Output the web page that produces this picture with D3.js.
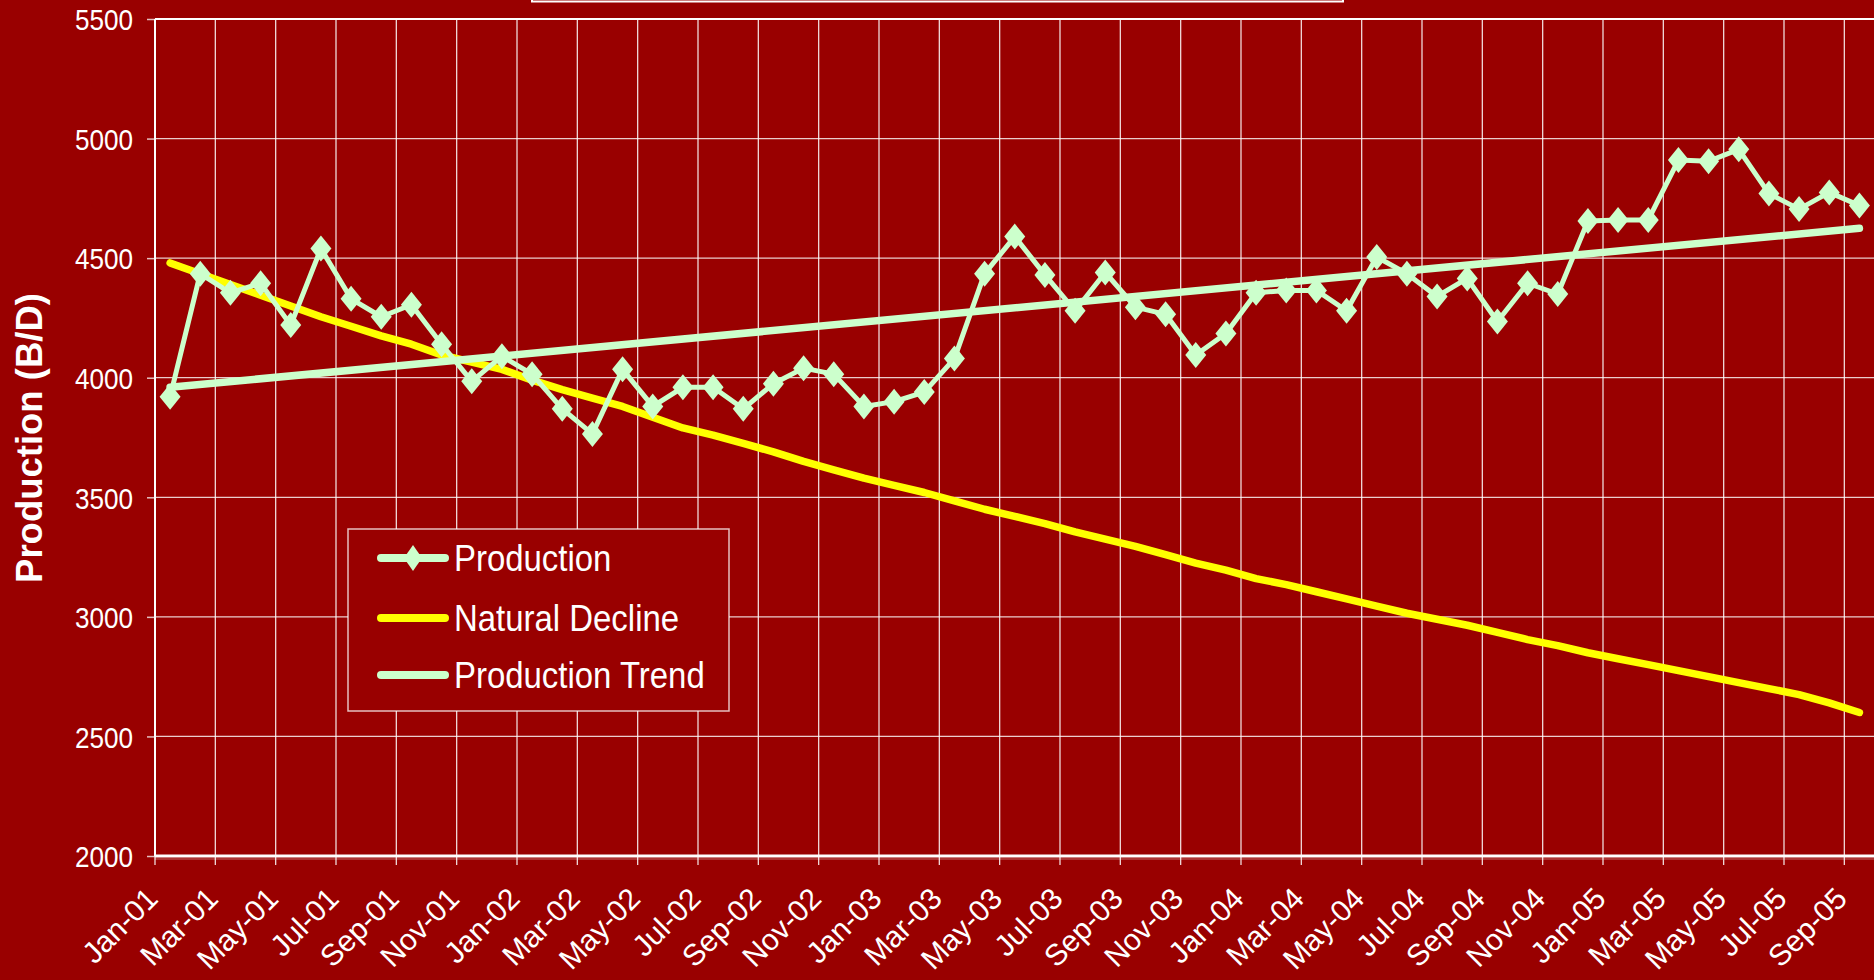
<!DOCTYPE html>
<html>
<head>
<meta charset="utf-8">
<script src="https://cdn.jsdelivr.net/npm/d3@7"></script>
<style>
  html, body { margin: 0; padding: 0; background: #990000; overflow: hidden; }
  svg { display: block; }
</style>
</head>
<body>
<div class="canvas"></div>
<script>
const months = [
  'Jan-01','Feb-01','Mar-01','Apr-01','May-01','Jun-01','Jul-01','Aug-01','Sep-01','Oct-01','Nov-01','Dec-01',
  'Jan-02','Feb-02','Mar-02','Apr-02','May-02','Jun-02','Jul-02','Aug-02','Sep-02','Oct-02','Nov-02','Dec-02',
  'Jan-03','Feb-03','Mar-03','Apr-03','May-03','Jun-03','Jul-03','Aug-03','Sep-03','Oct-03','Nov-03','Dec-03',
  'Jan-04','Feb-04','Mar-04','Apr-04','May-04','Jun-04','Jul-04','Aug-04','Sep-04','Oct-04','Nov-04','Dec-04',
  'Jan-05','Feb-05','Mar-05','Apr-05','May-05','Jun-05','Jul-05','Aug-05','Sep-05'
];

const production = [
  3920, 4435, 4355, 4395, 4220, 4540, 4330, 4255, 4305, 4140, 3985, 4090,
  4015, 3870, 3765, 4035, 3880, 3960, 3960, 3870, 3975, 4040, 4015, 3880,
  3900, 3940, 4080, 4435, 4590, 4430, 4280, 4440, 4295, 4265, 4095, 4185,
  4355, 4365, 4365, 4280, 4505, 4435, 4340, 4415, 4235, 4395, 4350, 4655,
  4660, 4660, 4910, 4905, 4955, 4770, 4705, 4775, 4720
];

const naturalDecline = [
  4480, 4435, 4390, 4345, 4300, 4255, 4215, 4175, 4140, 4095, 4065, 4035,
  3990, 3950, 3915, 3880, 3835, 3790, 3760, 3725, 3690, 3650, 3615, 3580,
  3550, 3520, 3485, 3450, 3420, 3390, 3355, 3325, 3295, 3260, 3225, 3195,
  3160, 3135, 3105, 3075, 3045, 3015, 2990, 2965, 2935, 2905, 2880, 2850,
  2825, 2800, 2775, 2750, 2725, 2700, 2675, 2640, 2600
];

const trendMonths = ['Jan-01', 'Sep-05'];
const trendValues = [3960, 4625];

const yTicks = [2000, 2500, 3000, 3500, 4000, 4500, 5000, 5500];
const seriesNames = ['Production', 'Natural Decline', 'Production Trend'];

const bgColor = '#990000';
const greenColor = '#ccffcc';
const yellowColor = '#ffff00';

const width = 1874, height = 980;
const margin = { top: 19, left: 155, bottom: 124 };
const graphWidth = 1874.5 - margin.left;
const graphHeight = height - margin.top - margin.bottom;

const svg = d3.select('.canvas').append('svg')
    .attr('width', width)
    .attr('height', height);

svg.append('rect')
    .attr('width', width)
    .attr('height', height)
    .attr('fill', bgColor);

// cut-off title box at the top
svg.append('rect')
    .attr('x', 532)
    .attr('y', -10)
    .attr('width', 811)
    .attr('height', 11.5)
    .attr('fill', 'none')
    .attr('stroke', 'white')
    .attr('stroke-width', 2);

const graph = svg.append('g')
    .attr('transform', `translate(${margin.left}, ${margin.top})`);

// Scales
const x = d3.scaleBand()
    .domain(months)
    .range([0, graphWidth])
    .padding(0);

const y = d3.scaleLinear()
    .domain([2000, 5500])
    .range([graphHeight, 0]);

const cx = m => x(m) + x.bandwidth() / 2;

// every second month gets a gridline, tick and label
const labelMonths = months.filter((m, i) => i % 2 === 0);

// horizontal gridlines
graph.append('g')
    .selectAll('line')
    .data(yTicks.slice(1, -1))
    .enter()
    .append('line')
    .attr('x1', 0)
    .attr('x2', graphWidth)
    .attr('y1', d => y(d))
    .attr('y2', d => y(d))
    .attr('stroke', 'rgba(255,255,255,0.8)')
    .attr('stroke-width', 1.3);

// vertical gridlines
graph.append('g')
    .selectAll('line')
    .data(labelMonths.slice(1))
    .enter()
    .append('line')
    .attr('x1', d => x(d))
    .attr('x2', d => x(d))
    .attr('y1', 0)
    .attr('y2', graphHeight)
    .attr('stroke', 'rgba(255,255,255,0.85)')
    .attr('stroke-width', 1.3);

// top border
graph.append('line')
    .attr('x1', 0)
    .attr('x2', graphWidth)
    .attr('y1', 0)
    .attr('y2', 0)
    .attr('stroke', 'white')
    .attr('stroke-width', 2);

// Y axis
const yAxis = d3.axisLeft(y).tickValues(yTicks).tickSize(8).tickFormat(d3.format('d'));
const yAxisG = graph.append('g').call(yAxis);
yAxisG.select('.domain').remove();
yAxisG.selectAll('.tick line')
    .attr('stroke', 'rgba(255,255,255,0.75)')
    .attr('stroke-width', 1.5);
yAxisG.selectAll('.tick text')
    .attr('x', -22 / 0.87)
    .attr('dy', '0.36em')
    .attr('transform', 'scale(0.87,1)')
    .attr('fill', 'white')
    .attr('font-family', 'Liberation Sans, Arial, sans-serif')
    .attr('font-size', 30);

graph.append('line')
    .attr('x1', 0)
    .attr('x2', 0)
    .attr('y1', 0)
    .attr('y2', graphHeight)
    .attr('stroke', 'white')
    .attr('stroke-width', 2);

// X axis
graph.append('line')
    .attr('x1', 0)
    .attr('x2', graphWidth)
    .attr('y1', graphHeight)
    .attr('y2', graphHeight)
    .attr('stroke', 'white')
    .attr('stroke-width', 3);

graph.append('line')
    .attr('x1', 0)
    .attr('x2', graphWidth)
    .attr('y1', graphHeight + 3)
    .attr('y2', graphHeight + 3)
    .attr('stroke', 'rgba(255,255,255,0.4)')
    .attr('stroke-width', 1);

graph.append('g')
    .selectAll('line')
    .data(labelMonths)
    .enter()
    .append('line')
    .attr('x1', d => x(d))
    .attr('x2', d => x(d))
    .attr('y1', graphHeight)
    .attr('y2', graphHeight + 9)
    .attr('stroke', 'rgba(255,255,255,0.85)')
    .attr('stroke-width', 1.3);

graph.append('g')
    .selectAll('text')
    .data(labelMonths)
    .enter()
    .append('text')
    .attr('transform', d => `translate(${cx(d) - 18}, ${graphHeight + 37}) rotate(-45)`)
    .attr('text-anchor', 'end')
    .attr('dy', '0.35em')
    .attr('fill', 'white')
    .attr('font-family', 'Liberation Sans, Arial, sans-serif')
    .attr('font-size', 30)
    .text(d => d);

// Y axis title
svg.append('text')
    .attr('transform', 'translate(42, 438) rotate(-90)')
    .attr('text-anchor', 'middle')
    .attr('fill', 'white')
    .attr('font-family', 'Liberation Sans, Arial, sans-serif')
    .attr('font-weight', 'bold')
    .attr('font-size', 36.5)
    .text('Production (B/D)');

// Lines
const line = d3.line()
    .x(d => cx(d.month))
    .y(d => y(d.value));

const declineData = months.map((m, i) => ({ month: m, value: naturalDecline[i] }));
const trendData = trendMonths.map((m, i) => ({ month: m, value: trendValues[i] }));
const prodData = months.map((m, i) => ({ month: m, value: production[i] }));

graph.append('path')
    .datum(declineData)
    .attr('fill', 'none')
    .attr('stroke', yellowColor)
    .attr('stroke-width', 7.5)
    .attr('stroke-linecap', 'round')
    .attr('stroke-linejoin', 'round')
    .attr('d', line);

graph.append('path')
    .datum(trendData)
    .attr('fill', 'none')
    .attr('stroke', greenColor)
    .attr('stroke-width', 7.5)
    .attr('stroke-linecap', 'round')
    .attr('d', line);

graph.append('path')
    .datum(prodData)
    .attr('fill', 'none')
    .attr('stroke', greenColor)
    .attr('stroke-width', 5)
    .attr('stroke-linejoin', 'round')
    .attr('d', line);

const diamond = 'M0,-13L10.5,0L0,13L-10.5,0Z';

graph.append('g')
    .selectAll('path')
    .data(prodData)
    .enter()
    .append('path')
    .attr('transform', d => `translate(${cx(d.month)}, ${y(d.value)})`)
    .attr('d', diamond)
    .attr('fill', greenColor);

// Legend
const legend = svg.append('g')
    .attr('transform', 'translate(348, 529)');

legend.append('rect')
    .attr('width', 381)
    .attr('height', 182)
    .attr('fill', bgColor)
    .attr('stroke', 'rgba(255,255,255,0.75)')
    .attr('stroke-width', 1.5);

const legendColors = [greenColor, yellowColor, greenColor];
const rowY = [29, 89, 146];

seriesNames.forEach((name, i) => {
    const row = legend.append('g')
        .attr('transform', `translate(0, ${rowY[i]})`);
    row.append('line')
        .attr('x1', 33)
        .attr('x2', 97)
        .attr('stroke', legendColors[i])
        .attr('stroke-width', 8)
        .attr('stroke-linecap', 'round');
    if (i === 0) {
        row.append('path')
            .attr('transform', 'translate(65, 0)')
            .attr('d', 'M0,-13L9,0L0,13L-9,0Z')
            .attr('fill', greenColor);
    }
    row.append('text')
        .attr('transform', 'translate(106, 13) scale(0.89,1)')
        .attr('fill', 'white')
        .attr('font-family', 'Liberation Sans, Arial, sans-serif')
        .attr('font-size', 37)
        .text(name);
});
</script>
</body>
</html>
